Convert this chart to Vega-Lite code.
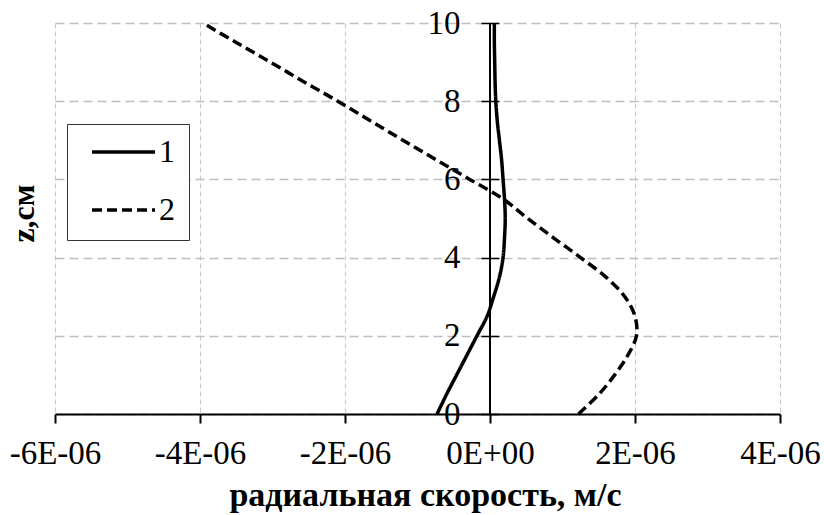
{
  "$schema": "https://vega.github.io/schema/vega-lite/v6.json",
  "width": 725,
  "height": 391,
  "autosize": {"type": "none"},
  "padding": {"left": 55, "top": 23, "right": 44, "bottom": 101},
  "background": "white",
  "config": {
    "view": {"stroke": null},
    "font": "Liberation Serif, Times New Roman, serif",
    "axis": {"labelFont": "Liberation Serif, Times New Roman, serif", "titleFont": "Liberation Serif, Times New Roman, serif", "labelColor": "black", "titleColor": "black", "labelFontSize": 33, "titleFontSize": 34, "titleFontWeight": "bold"},
    "legend": {"labelFont": "Liberation Serif, Times New Roman, serif"}
  },
  "data": {"values": [
    {"z": 0, "v": -7.3e-7, "series": "1"},
    {"z": 0.5, "v": -6.0e-7, "series": "1"},
    {"z": 1, "v": -4.6e-7, "series": "1"},
    {"z": 1.5, "v": -3.2e-7, "series": "1"},
    {"z": 2, "v": -1.8e-7, "series": "1"},
    {"z": 2.5, "v": -4e-8, "series": "1"},
    {"z": 3, "v": 5e-8, "series": "1"},
    {"z": 3.5, "v": 1.3e-7, "series": "1"},
    {"z": 4, "v": 1.8e-7, "series": "1"},
    {"z": 4.5, "v": 2.0e-7, "series": "1"},
    {"z": 5, "v": 2.1e-7, "series": "1"},
    {"z": 5.5, "v": 2.0e-7, "series": "1"},
    {"z": 6, "v": 1.8e-7, "series": "1"},
    {"z": 6.5, "v": 1.6e-7, "series": "1"},
    {"z": 7, "v": 1.3e-7, "series": "1"},
    {"z": 7.5, "v": 1.0e-7, "series": "1"},
    {"z": 8, "v": 8e-8, "series": "1"},
    {"z": 8.5, "v": 7e-8, "series": "1"},
    {"z": 9, "v": 6.5e-8, "series": "1"},
    {"z": 9.5, "v": 6e-8, "series": "1"},
    {"z": 10, "v": 6e-8, "series": "1"},
    {"z": 0, "v": 1.22e-6, "series": "2"},
    {"z": 0.5, "v": 1.5e-6, "series": "2"},
    {"z": 1, "v": 1.72e-6, "series": "2"},
    {"z": 1.5, "v": 1.9e-6, "series": "2"},
    {"z": 2, "v": 2.02e-6, "series": "2"},
    {"z": 2.5, "v": 2.0e-6, "series": "2"},
    {"z": 3, "v": 1.86e-6, "series": "2"},
    {"z": 3.5, "v": 1.6e-6, "series": "2"},
    {"z": 4, "v": 1.25e-6, "series": "2"},
    {"z": 4.5, "v": 8.8e-7, "series": "2"},
    {"z": 5, "v": 5.2e-7, "series": "2"},
    {"z": 5.5, "v": 1.8e-7, "series": "2"},
    {"z": 6, "v": -2.8e-7, "series": "2"},
    {"z": 6.5, "v": -7.4e-7, "series": "2"},
    {"z": 7, "v": -1.2e-6, "series": "2"},
    {"z": 7.5, "v": -1.65e-6, "series": "2"},
    {"z": 8, "v": -2.1e-6, "series": "2"},
    {"z": 8.5, "v": -2.57e-6, "series": "2"},
    {"z": 9, "v": -3.03e-6, "series": "2"},
    {"z": 9.5, "v": -3.5e-6, "series": "2"},
    {"z": 10, "v": -3.96e-6, "series": "2"}
  ]},
  "layer": [
    {
      "mark": {"type": "line", "color": "black", "strokeWidth": 3.5, "interpolate": "catmull-rom", "strokeCap": "butt"},
      "encoding": {
        "x": {
          "field": "v", "type": "quantitative",
          "scale": {"domain": [-6e-6, 4e-6], "nice": false, "zero": false},
          "axis": {
            "title": "радиальная скорость, м/с",
            "values": [-6e-6, -4e-6, -2e-6, 0, 2e-6, 4e-6],
            "labelExpr": "datum.value == 0 ? '0E+00' : (datum.value < 0 ? '-' : '') + format(abs(datum.value) * 1e6, 'd') + 'E-06'",
            "domainColor": "black", "domainWidth": 2,
            "tickColor": "black", "tickWidth": 2, "tickSize": 9,
            "labelPadding": 14, "labelFlush": false,
            "grid": true, "gridColor": "#c8c8c8", "gridWidth": 1, "gridDash": [5, 3],
            "titleX": 370, "titleY": 91, "titleBaseline": "alphabetic"
          }
        },
        "y": {
          "field": "z", "type": "quantitative",
          "scale": {"domain": [0, 10], "nice": false},
          "axis": {
            "title": "z,см",
            "titleFontSize": 32,
            "values": [0, 2, 4, 6, 8, 10],
            "offset": -444,
            "domain": false,
            "tickColor": "black", "tickWidth": 1.5, "tickSize": 18,
            "labelPadding": 21, "labelFlush": false,
            "grid": true, "gridColor": "#bfbfbf", "gridWidth": 1.5, "gridDash": [9, 5],
            "titleX": -476, "titleY": 190, "titleBaseline": "middle", "titleAngle": -90
          }
        },
        "order": {"field": "z", "type": "quantitative"},
        "strokeDash": {
          "field": "series", "type": "nominal",
          "scale": {"domain": ["1", "2"], "range": [[1, 0], [10, 5]]},
          "legend": {
            "title": null,
            "orient": "none", "legendX": 12, "legendY": 101,
            "strokeColor": "#333333", "fillColor": "white",
            "padding": 14, "symbolOffset": 9, "clipHeight": 28,
            "symbolType": "stroke", "symbolSize": 3969, "symbolStrokeWidth": 3.5, "symbolStrokeColor": "black",
            "labelFontSize": 32, "labelColor": "black", "labelOffset": 2,
            "labelExpr": "datum.label + '\u00a0\u00a0'",
            "rowPadding": 26
          }
        }
      }
    },
    {
      "mark": {"type": "rule", "color": "black", "strokeWidth": 1.5},
      "encoding": {"x": {"datum": 0}}
    }
  ]
}
